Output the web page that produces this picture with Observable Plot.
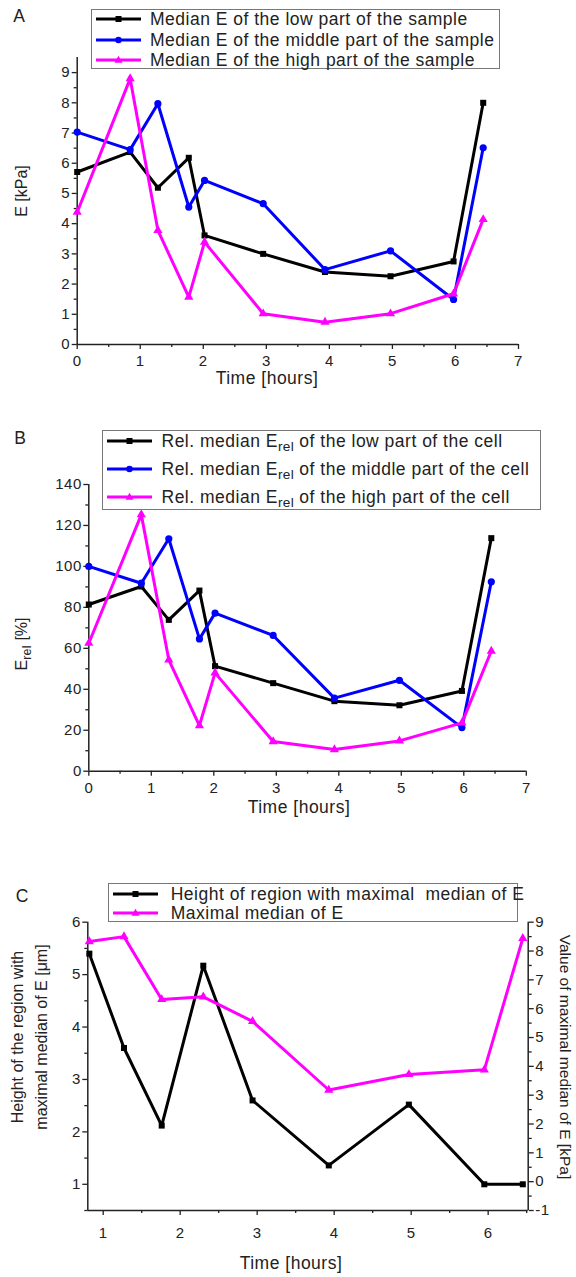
<!DOCTYPE html>
<html>
<head>
<meta charset="utf-8">
<script src="https://cdn.jsdelivr.net/npm/d3@7"></script>
<script src="https://cdn.jsdelivr.net/npm/@observablehq/plot@0.6"></script>
<style>
  html, body { margin: 0; padding: 0; background: #fff; }
  #root { position: relative; width: 576px; height: 1277px; overflow: hidden;
          font-family: "Liberation Sans", Arial, Helvetica, sans-serif; color: #222; }
  #root svg { position: absolute; left: 0; }
  .lbl { position: absolute; white-space: nowrap; line-height: 1; }
  .legend { position: absolute; box-sizing: border-box; border: 1px solid #777; background: #fff; }
  .ltext { position: absolute; white-space: nowrap; font-size: 17.5px; letter-spacing: 0.5px; line-height: 20px; height: 20px; }
  sub { font-size: 0.78em; vertical-align: -0.32em; line-height: 0; letter-spacing: 0.3px; }
</style>
</head>
<body>
<div id="root"></div>
<script>
// ---------------- data ----------------
// Panel A: median E [kPa]
const timeA = [0, 0.84, 1.28, 1.77, 2.02, 2.95, 3.93, 4.97, 5.97, 6.44];
const lowA  = [5.71, 6.37, 5.19, 6.18, 3.61, 3.00, 2.40, 2.26, 2.75, 8.00];
const midA  = [7.03, 6.45, 7.97, 4.55, 5.43, 4.66, 2.48, 3.10, 1.49, 6.51];
const highA = [4.38, 8.80, 3.78, 1.57, 3.39, 1.02, 0.74, 1.02, 1.68, 4.14];
// Panel B: relative median E_rel [%]
const timeB = [0, 0.84, 1.28, 1.77, 2.02, 2.95, 3.93, 4.97, 5.97, 6.44];
const lowB  = [81.4, 90.2, 73.9, 88.2, 51.3, 43.0, 34.2, 32.2, 39.2, 113.8];
const midB  = [100, 91.8, 113.5, 64.6, 77.2, 66.3, 35.7, 44.4, 21.3, 92.5];
const highB = [62.5, 125.3, 54.4, 22.3, 48.0, 14.5, 10.6, 14.8, 23.6, 58.7];
// Panel C: height of region [µm] (left axis) and maximal median E [kPa] (right axis)
const timeC   = [0.82, 1.27, 1.76, 2.30, 2.94, 3.93, 4.97, 5.95, 6.45];
const heightC = [5.40, 3.60, 2.12, 5.17, 2.60, 1.36, 2.52, 1.00, 1.00];
const maxEC   = [8.33, 8.50, 6.32, 6.41, 5.56, 3.18, 3.72, 3.88, 8.44];

// tick labels
const xTicksAB = [0, 1, 2, 3, 4, 5, 6, 7];
const yTicksA  = [0, 1, 2, 3, 4, 5, 6, 7, 8, 9];
const yTicksB  = [0, 20, 40, 60, 80, 100, 120, 140];
const xTicksC  = [1, 2, 3, 4, 5, 6];
const yTicksCL = [1, 2, 3, 4, 5, 6];
const yTicksCR = [-1, 0, 1, 2, 3, 4, 5, 6, 7, 8, 9];

// legend / axis texts
const legendA = ["Median E of the low part of the sample",
                 "Median E of the middle part of the sample",
                 "Median E of the high part of the sample"];
const legendB = ["Rel. median E<sub>rel</sub> of the low part of the cell",
                 "Rel. median E<sub>rel</sub> of the middle part of the cell",
                 "Rel. median E<sub>rel</sub> of the high part of the cell"];
const legendC = ["Height of region with maximal&nbsp; median of E",
                 "Maximal median of E"];

// ---------------- helpers ----------------
const W = 576;
const FONT = '"Liberation Sans", Arial, Helvetica, sans-serif';
const INK = "#222";
const BLACK = "#000000", BLUE = "#0000ff", MAGENTA = "#ff00ff";
const root = document.getElementById("root");

const rows = (t, v) => t.map((x, i) => ({t: x, v: v[i]}));
const half = (a, b) => d3.range(a, b + 1e-9, 1).map(d => d + 0.5);

function seriesMarks(data, color, symbol, r) {
  return [
    Plot.line(data, {x: "t", y: "v", stroke: color, strokeWidth: 3, strokeLinejoin: "round"}),
    Plot.dot(data, {x: "t", y: "v", symbol, r, fill: color, stroke: "none"})
  ];
}

function frameAxes(xMajor, xMinor, yMajor, yMinor, xPad) {
  return [
    Plot.axisX({ticks: xMinor, tickSize: 3, tickFormat: () => "", label: null, strokeWidth: 1.3}),
    Plot.axisX({ticks: xMajor, tickSize: 5, tickPadding: xPad, tickFormat: d => String(d), label: null, strokeWidth: 1.3}),
    Plot.axisY({ticks: yMinor, tickSize: 3, tickFormat: () => "", label: null, strokeWidth: 1.3}),
    Plot.axisY({ticks: yMajor, tickSize: 5, tickPadding: 2, tickFormat: d => String(d), label: null, strokeWidth: 1.3})
  ];
}

const style = {fontFamily: FONT, fontSize: "15px", letterSpacing: "0.5px", color: INK,
               background: "transparent", overflow: "visible"};

function put(svg, top) { svg.style.top = top + "px"; root.appendChild(svg); }

function text(html, cx, cy, size, rot = 0, extra = "") {
  const d = document.createElement("div");
  d.className = "lbl";
  d.innerHTML = html;
  d.style.cssText += `left:${cx}px;top:${cy}px;font-size:${size}px;transform:translate(-50%,-50%) rotate(${rot}deg);${extra}`;
  root.appendChild(d);
}

function marker(symbol, color, cx, cy) {
  if (symbol === "square") return `<rect x="${cx - 3}" y="${cy - 3}" width="6" height="6" fill="${color}"/>`;
  if (symbol === "circle") return `<circle cx="${cx}" cy="${cy}" r="3.3" fill="${color}"/>`;
  return `<path d="M${cx},${cy - 4.2}L${cx + 4},${cy + 2.8}L${cx - 4},${cy + 2.8}Z" fill="${color}"/>`;
}

function legend(left, top, width, height, items, textX) {
  const box = document.createElement("div");
  box.className = "legend";
  box.style.cssText += `left:${left}px;top:${top}px;width:${width}px;height:${height}px;`;
  items.forEach(it => {
    const s = `<svg width="50" height="12" style="position:absolute;left:3px;top:${it.cy - 6}px;overflow:visible">` +
      `<line x1="1" y1="6" x2="46" y2="6" stroke="${it.color}" stroke-width="3"/>` +
      marker(it.symbol, it.color, 23.5, 6) + `</svg>`;
    box.insertAdjacentHTML("beforeend", s);
    const t = document.createElement("div");
    t.className = "ltext";
    t.innerHTML = it.html;
    t.style.left = textX + "px";
    t.style.top = (it.cy - 10) + "px";
    box.appendChild(t);
  });
  root.appendChild(box);
}

// ---------------- Panel A ----------------
put(Plot.plot({
  width: W, height: 400,
  marginTop: 57, marginBottom: 56, marginLeft: 76.7, marginRight: 58,
  x: {domain: [0, 7], label: null},
  y: {domain: [0, 9.5], label: null},
  style,
  marks: [
    ...frameAxes(xTicksAB, half(0, 6), yTicksA, half(0, 8.5), 6),
    Plot.ruleX([0], {stroke: INK, strokeWidth: 1.5}),
    Plot.ruleY([0], {stroke: INK, strokeWidth: 1.5}),
    ...seriesMarks(rows(timeA, lowA), BLACK, "square", 3.4),
    ...seriesMarks(rows(timeA, midA), BLUE, "circle", 3.6),
    ...seriesMarks(rows(timeA, highA), MAGENTA, "triangle", 3.4)
  ]
}), 0);

// ---------------- Panel B ----------------
put(Plot.plot({
  width: W, height: 400,
  marginTop: 84, marginBottom: 29.3, marginLeft: 88.3, marginRight: 50.2,
  x: {domain: [0, 7], label: null},
  y: {domain: [0, 140], label: null},
  style,
  marks: [
    ...frameAxes(xTicksAB, half(0, 6), yTicksB, d3.range(10, 140, 20), 6),
    Plot.ruleX([0], {stroke: INK, strokeWidth: 1.5}),
    Plot.ruleY([0], {stroke: INK, strokeWidth: 1.5}),
    ...seriesMarks(rows(timeB, lowB), BLACK, "square", 3.4),
    ...seriesMarks(rows(timeB, midB), BLUE, "circle", 3.6),
    ...seriesMarks(rows(timeB, highB), MAGENTA, "triangle", 3.4)
  ]
}), 400);

// ---------------- Panel C (dual axis) ----------------
const leftDom = [0.5, 6], rightDom = [-1, 9];
const toLeft = v => leftDom[0] + (v - rightDom[0]) * (leftDom[1] - leftDom[0]) / (rightDom[1] - rightDom[0]);
const fromLeft = y => rightDom[0] + (y - leftDom[0]) * (rightDom[1] - rightDom[0]) / (leftDom[1] - leftDom[0]);
const maxECleft = maxEC.map(toLeft);
const xMinC = 0.8, xMaxC = 6.52;

put(Plot.plot({
  width: W, height: 400,
  marginTop: 61.7, marginBottom: 50, marginLeft: 87.3, marginRight: 48.3,
  x: {domain: [xMinC, xMaxC], label: null},
  y: {domain: leftDom, label: null},
  style,
  marks: [
    ...frameAxes(xTicksC, half(1, 6), yTicksCL, half(0, 5), 12),
    Plot.axisY({anchor: "right", ticks: half(-1, 8).map(toLeft), tickSize: 3, tickFormat: () => "", label: null, strokeWidth: 1.3}),
    Plot.axisY({anchor: "right", ticks: yTicksCR.map(toLeft), tickSize: 5, tickPadding: 2,
                tickFormat: d => String(Math.round(fromLeft(d))), label: null, strokeWidth: 1.3}),
    Plot.ruleX([xMinC], {stroke: INK, strokeWidth: 1.5}),
    Plot.ruleX([xMaxC], {stroke: INK, strokeWidth: 1.5}),
    Plot.ruleY([leftDom[0]], {stroke: INK, strokeWidth: 1.5}),
    ...seriesMarks(rows(timeC, heightC), BLACK, "square", 3.4),
    ...seriesMarks(rows(timeC, maxECleft), MAGENTA, "triangle", 3.4)
  ]
}), 860);

// ---------------- texts ----------------
text("A", 19, 17, 17.5);
text("B", 20, 439, 17.5);
text("C", 22, 897, 17.5);

text("Time [hours]", 267, 379, 17.5, 0, "letter-spacing:0.5px");
text("Time [hours]", 299, 808, 17.5, 0, "letter-spacing:0.5px");
text("Time [hours]", 291, 1264, 17.5, 0, "letter-spacing:0.5px");

text("E [kPa]", 22, 191, 16, -90);
text("E<sub>rel</sub> [%]", 22, 644, 16, -90);
text("Height of the region with", 18, 1037, 16, -90);
text("maximal median of E [&mu;m]", 41.5, 1037, 16, -90);
text("Value of maximal median of E [kPa]", 565, 1057, 15.5, 90);

// ---------------- legends ----------------
legend(91, 9, 409, 60, [
  {html: legendA[0], color: BLACK, symbol: "square", cy: 9.3},
  {html: legendA[1], color: BLUE, symbol: "circle", cy: 30},
  {html: legendA[2], color: MAGENTA, symbol: "triangle", cy: 50.3}
], 58);
legend(102, 430, 439, 80, [
  {html: legendB[0], color: BLACK, symbol: "square", cy: 10},
  {html: legendB[1], color: BLUE, symbol: "circle", cy: 37.7},
  {html: legendB[2], color: MAGENTA, symbol: "triangle", cy: 65.7}
], 58.5);
legend(107.7, 883, 410.7, 38.5, [
  {html: legendC[0], color: BLACK, symbol: "square", cy: 9.7},
  {html: legendC[1], color: MAGENTA, symbol: "triangle", cy: 29.2}
], 62);
</script>
</body>
</html>
